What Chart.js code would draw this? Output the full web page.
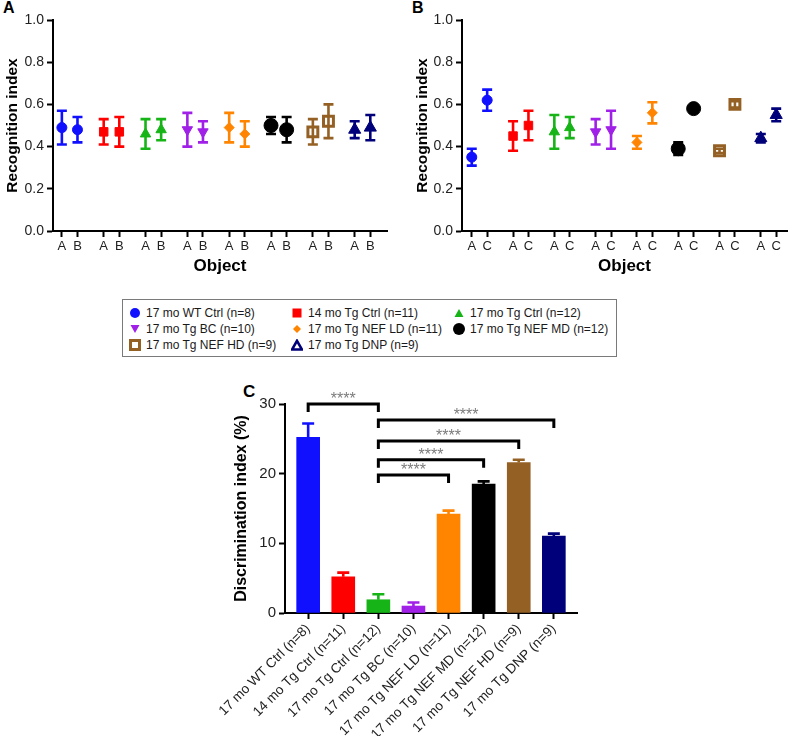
<!DOCTYPE html>
<html>
<head>
<meta charset="utf-8">
<script src="https://cdn.jsdelivr.net/npm/chart.js@4.4.1/dist/chart.umd.min.js"></script>
<style>
  body { margin:0; background:#fff; width:797px; height:736px; position:relative; overflow:hidden;
         font-family:"Liberation Sans", Arial, sans-serif; }
  canvas { position:absolute; }
  .panel { position:absolute; font-weight:bold; color:#000; line-height:16px; }
  #legend { position:absolute; left:122px; top:299px; width:495px; height:58px; border:1px solid #7a7a7a;
            box-sizing:border-box; font-size:12px; color:#1a1a1a; }
  .item { position:absolute; height:16px; line-height:16px; white-space:nowrap; }
  .item svg { vertical-align:middle; margin-right:5px; position:relative; top:-1px; }
</style>
</head>
<body>
<div class="panel" style="left:3px;top:0px;font-size:16px;">A</div>
<div class="panel" style="left:412px;top:0px;font-size:16px;">B</div>
<div class="panel" style="left:243px;top:384px;font-size:17px;">C</div>

<canvas id="chartA" width="397" height="280" style="left:0;top:0;"></canvas>
<canvas id="chartB" width="397" height="280" style="left:400px;top:0;"></canvas>
<div id="legend"></div>
<canvas id="chartC" width="420" height="366" style="left:180px;top:370px;"></canvas>

<script>
// groups (same order in every panel)
const groups = ['17 mo WT Ctrl (n=8)', '14 mo Tg Ctrl (n=11)', '17 mo Tg Ctrl (n=12)', '17 mo Tg BC (n=10)',
                '17 mo Tg NEF LD (n=11)', '17 mo Tg NEF MD (n=12)', '17 mo Tg NEF HD (n=9)', '17 mo Tg DNP (n=9)'];
const colors = ['#1010ff', '#ff0000', '#16b416', '#a020e8', '#ff8400', '#000000', '#946024', '#00007a'];

// panel A: training, objects A and B (mean, sem)
const trainObjA = [0.49, 0.47, 0.46, 0.48, 0.49, 0.50, 0.47, 0.48];
const trainObjAErr = [0.08, 0.06, 0.07, 0.08, 0.07, 0.04, 0.06, 0.04];
const trainObjB = [0.48, 0.47, 0.48, 0.47, 0.46, 0.48, 0.52, 0.49];
const trainObjBErr = [0.06, 0.07, 0.05, 0.05, 0.06, 0.06, 0.08, 0.06];

// panel B: test, objects A and C
const testObjA = [0.35, 0.45, 0.47, 0.47, 0.42, 0.39, 0.38, 0.44];
const testObjAErr = [0.04, 0.07, 0.08, 0.06, 0.03, 0.03, 0.01, 0.02];
const testObjC = [0.62, 0.50, 0.49, 0.48, 0.56, 0.58, 0.60, 0.55];
const testObjCErr = [0.05, 0.07, 0.05, 0.09, 0.05, 0.01, 0.015, 0.03];

// panel C: discrimination index (%)
const discMean = [25.2, 5.2, 1.9, 1.0, 14.2, 18.5, 21.6, 11.05];
const discSem = [2.0, 0.6, 0.8, 0.5, 0.5, 0.4, 0.4, 0.35];

// significance brackets: [from group, to group, height, label]
const brackets = [[0, 2, 30, '****'], [2, 7, 27.7, '****'], [2, 6, 24.7, '****'], [2, 5, 22.0, '****'], [2, 4, 19.8, '****']];

const markers = [
  {pointStyle:'circle', radius:5, rotation:0, fill:true},
  {pointStyle:'rect', radius:6, rotation:0, fill:true},
  {pointStyle:'triangle', radius:6, rotation:0, fill:true},
  {pointStyle:'triangle', radius:6, rotation:180, fill:true},
  {pointStyle:'rectRot', radius:5, rotation:0, fill:true},
  {pointStyle:'circle', radius:7, rotation:0, fill:true},
  {pointStyle:'rect', radius:7, rotation:0, fill:false},
  {pointStyle:'triangle', radius:7, rotation:0, fill:true}
];

const GAP = 2.68; // distance between groups on the object axis

function pairDatasets(first, firstErr, second, secondErr) {
  return groups.map((g, i) => ({
    label: g,
    data: [{x: i * GAP, y: first[i], err: firstErr[i]}, {x: i * GAP + 1, y: second[i], err: secondErr[i]}],
    borderColor: colors[i],
    backgroundColor: markers[i].fill ? colors[i] : 'rgba(0,0,0,0)',
    pointStyle: markers[i].pointStyle,
    pointRadius: markers[i].radius,
    pointRotation: markers[i].rotation,
    pointBorderWidth: markers[i].fill ? 1 : 3,
    showLine: false
  }));
}

const errorBars = {
  id: 'errorBars',
  beforeDatasetsDraw(chart) {
    const {ctx, scales: {x, y}} = chart;
    ctx.save();
    ctx.lineWidth = 2.6;
    chart.data.datasets.forEach(ds => {
      ctx.strokeStyle = ds.borderColor;
      ds.data.forEach(p => {
        const px = x.getPixelForValue(p.x);
        const t = y.getPixelForValue(p.y + p.err), b = y.getPixelForValue(p.y - p.err);
        ctx.beginPath();
        ctx.moveTo(px, t); ctx.lineTo(px, b);
        ctx.moveTo(px - 5, t); ctx.lineTo(px + 5, t);
        ctx.moveTo(px - 5, b); ctx.lineTo(px + 5, b);
        ctx.stroke();
      });
    });
    ctx.restore();
  }
};

const axisGrid = {display:true, drawOnChartArea:false, drawTicks:true, tickLength:6, tickWidth:2, tickColor:'#000', offset:false};
const axisBorder = {display:true, color:'#000', width:2};

function pairChart(id, datasets, second, xmin, xmax, yWidth, titlePad) {
  return new Chart(document.getElementById(id), {
    type: 'scatter',
    data: {datasets},
    options: {
      responsive:false, animation:false,
      layout: {padding: {top:20, right:2, left:0, bottom:0}},
      plugins: {legend:{display:false}, tooltip:{enabled:false}},
      scales: {
        x: {
          type:'linear', min:xmin, max:xmax,
          afterBuildTicks: s => { s.ticks = groups.flatMap((g, i) => [{value:i * GAP}, {value:i * GAP + 1}]); },
          afterFit: s => { s.height = 49; },
          ticks: {autoSkip:false, maxRotation:0, padding:2, color:'#222', font:{size:13, family:'Liberation Sans'},
                  callback: (v, i) => (i % 2 ? second : 'A')},
          grid: axisGrid, border: axisBorder,
          title: {display:true, text:'Object', color:'#000', font:{size:17, weight:'bold', family:'Liberation Sans'},
                  padding:{top:0, bottom:3}}
        },
        y: {
          min:0, max:1,
          afterFit: s => { s.width = yWidth; },
          ticks: {stepSize:0.2, padding:3, color:'#222', font:{size:14, family:'Liberation Sans'}, callback: v => v.toFixed(1)},
          grid: axisGrid, border: axisBorder,
          title: {display:true, text:'Recognition index', color:'#000', font:{size:15.5, weight:'bold', family:'Liberation Sans'},
                  padding:{top:titlePad, bottom:0}}
        }
      }
    },
    plugins: [errorBars]
  });
}

pairChart('chartA', pairDatasets(trainObjA, trainObjAErr, trainObjB, trainObjBErr), 'B', -0.568, 20.83, 53, 3);
pairChart('chartB', pairDatasets(testObjA, testObjAErr, testObjC, testObjCErr), 'C', -0.633, 20.46, 62, 13);

// legend
const svgShapes = [
  '<circle cx="6" cy="6" r="5" fill="C"/>',
  '<rect x="1.5" y="1.5" width="9" height="9" fill="C"/>',
  '<polygon points="6,2 10.5,10 1.5,10" fill="C"/>',
  '<polygon points="1.5,2 10.5,2 6,10" fill="C"/>',
  '<polygon points="6,2 10,6 6,10 2,6" fill="C"/>',
  '<circle cx="6" cy="6" r="6" fill="C"/>',
  '<rect x="1.5" y="1.5" width="9" height="9" fill="none" stroke="C" stroke-width="3"/>',
  '<polygon points="6,1.8 11,10.5 1,10.5" fill="none" stroke="C" stroke-width="2.6" stroke-linejoin="miter"/>'
];
const legend = document.getElementById('legend');
groups.forEach((g, i) => {
  const d = document.createElement('div');
  d.className = 'item';
  d.style.left = (6 + (i % 3) * 162) + 'px';
  d.style.top = (5 + Math.floor(i / 3) * 16) + 'px';
  d.innerHTML = '<svg width="12" height="12">' + svgShapes[i].replace(/C"/g, colors[i] + '"') + '</svg>' + g;
  legend.appendChild(d);
});

// panel C
const barExtras = {
  id: 'barExtras',
  afterDatasetsDraw(chart) {
    const {ctx, scales: {x, y}} = chart;
    ctx.save();
    ctx.lineWidth = 2.6;
    discMean.forEach((m, i) => {
      const px = x.getPixelForValue(i);
      const base = y.getPixelForValue(m), t = y.getPixelForValue(m + discSem[i]);
      ctx.strokeStyle = colors[i];
      ctx.beginPath();
      ctx.moveTo(px, base); ctx.lineTo(px, t);
      ctx.moveTo(px - 6, t); ctx.lineTo(px + 6, t);
      ctx.stroke();
    });
    ctx.restore();
  },
  afterDraw(chart) {
    const {ctx, scales: {x, y}} = chart;
    ctx.save();
    ctx.lineWidth = 3;
    ctx.strokeStyle = '#000';
    ctx.fillStyle = '#7c7c7c';
    ctx.font = '16px "Liberation Sans"';
    ctx.textAlign = 'center';
    ctx.textBaseline = 'alphabetic';
    brackets.forEach(([a, b, h, txt]) => {
      const x1 = x.getPixelForValue(a), x2 = x.getPixelForValue(b), py = y.getPixelForValue(h);
      ctx.beginPath();
      ctx.moveTo(x1, py + 8); ctx.lineTo(x1, py); ctx.lineTo(x2, py); ctx.lineTo(x2, py + 8);
      ctx.stroke();
      ctx.fillText(txt, (x1 + x2) / 2, py);
    });
    ctx.restore();
  }
};

new Chart(document.getElementById('chartC'), {
  type: 'bar',
  data: {
    datasets: [{
      data: discMean.map((v, i) => ({x: i, y: v})),
      backgroundColor: colors,
      borderWidth: 0,
      barThickness: 23
    }]
  },
  options: {
    responsive:false, animation:false,
    layout: {padding: {top:34, right:23, left:0, bottom:0}},
    plugins: {legend:{display:false}, tooltip:{enabled:false}},
    scales: {
      x: {
        type:'linear', min:-0.66, max:7.66, offset:false,
        afterBuildTicks: s => { s.ticks = groups.map((g, i) => ({value:i})); },
        afterFit: s => { s.height = 123; },
        ticks: {autoSkip:false, minRotation:45, maxRotation:45, padding:2, color:'#222',
                font:{size:13.5, family:'Liberation Sans'}, callback: (v, i) => groups[i]},
        grid: axisGrid, border: axisBorder
      },
      y: {
        min:0, max:30,
        afterFit: s => { s.width = 105; },
        ticks: {stepSize:10, padding:3, color:'#222', font:{size:15, family:'Liberation Sans'}},
        grid: axisGrid, border: axisBorder,
        title: {display:true, text:'Discrimination index (%)', color:'#000',
                font:{size:16, weight:'bold', family:'Liberation Sans'}, padding:{top:52, bottom:0}}
      }
    }
  },
  plugins: [barExtras]
});
</script>
</body>
</html>
